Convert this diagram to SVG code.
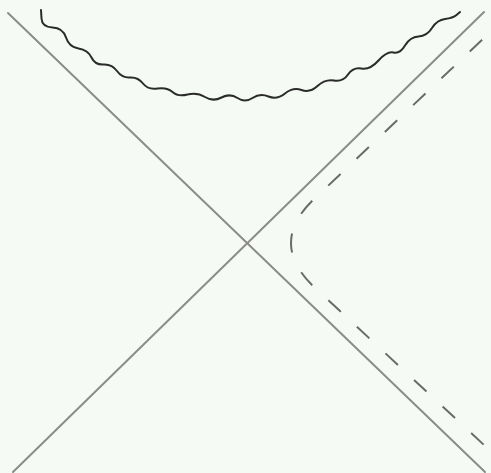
<svg xmlns="http://www.w3.org/2000/svg" width="491" height="473" viewBox="0 0 491 473">
  <style>
    .horizon { fill: none; stroke: #8c8c8c; stroke-width: 2; stroke-linecap: round; }
    .singularity { fill: none; stroke: #2b2b2b; stroke-width: 2; stroke-linejoin: round; stroke-linecap: round; }
    .orbit { fill: none; stroke: #6a6a6a; stroke-width: 2; stroke-dasharray: 17 22; stroke-dashoffset: 7.5; }
  </style>
  <rect x="0" y="0" width="491" height="473" fill="#f6faf4"/>
  <g id="horizons">
    <line class="horizon" x1="8" y1="13" x2="485" y2="472"/>
    <line class="horizon" x1="13" y1="472" x2="484" y2="12"/>
  </g>
  <g id="singularity">
    <path class="singularity" d="M41,10 L41.5,18.5 Q42,27 52.5,27.5 Q63,28 66,37.5 Q69,47 78.5,48.5 Q88,50 91.5,57.5 Q95,65 103.5,64.5 Q112,64 117,71 Q122,78 130,77.5 Q138,77 143,83.5 Q148,90 157.5,88.5 Q167,87 172.5,92 Q178,97 187.5,94.5 Q197,92 205,97 Q213,102 221.5,97.5 Q230,93 237.5,98 Q245,103 252.5,98 Q260,93 268.5,96.5 Q277,100 285,93.5 Q293,87 301.5,90 Q310,93 317.5,86 Q325,79 334,80.5 Q343,82 348,74.5 Q353,67 361.5,68.5 Q370,70 378.5,60.5 Q387,51 393.5,52.5 Q400,54 405,45.5 Q410,37 418.5,36.5 Q427,36 432,28 Q437,20 445,19 Q453,18 456.5,15 L460,12"/>
  </g>
  <g id="trajectory">
    <path class="orbit" d="M291,243 Q291,222 312,201 L484,38"/>
    <path class="orbit" d="M291,243 Q291,264 312,285 L484,445"/>
  </g>
</svg>
